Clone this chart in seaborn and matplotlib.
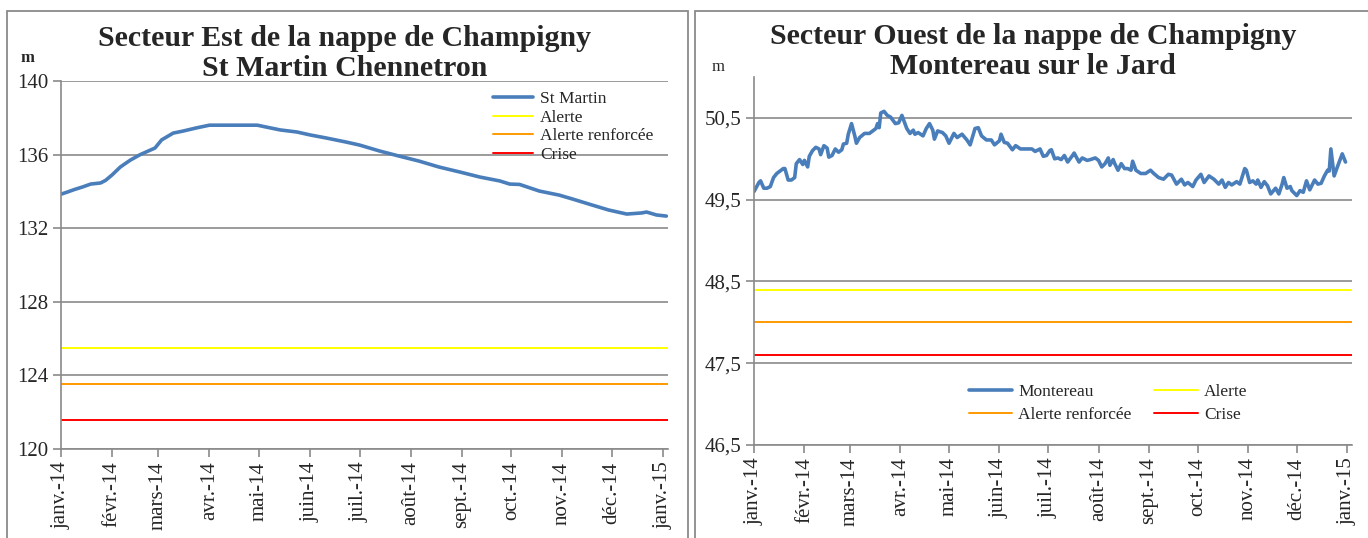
import pandas as pd
import matplotlib
matplotlib.use("Agg")
import matplotlib.pyplot as plt
import matplotlib.dates as mdates
from matplotlib.patches import Rectangle
import seaborn as sns

# Données (jours depuis le 1er janvier 2014, niveau en m)
est_jours = [0, 4, 8, 13, 18, 24, 27, 31, 36, 42, 48, 57, 61, 68, 74, 82, 90, 119,
             127, 133, 143, 151, 161, 173, 181, 193, 205, 217, 229, 242, 254, 266,
             272, 278, 290, 302, 310, 322, 332, 343, 352, 355, 361, 367]
est_niveau = [133.85, 133.97, 134.1, 134.24, 134.4, 134.46, 134.6, 134.9, 135.33,
              135.7, 136.0, 136.36, 136.8, 137.17, 137.28, 137.45, 137.6, 137.6,
              137.45, 137.34, 137.23, 137.07, 136.9, 136.68, 136.52, 136.2, 135.92,
              135.65, 135.33, 135.05, 134.78, 134.57, 134.4, 134.38, 134.02, 133.8,
              133.59, 133.26, 132.99, 132.77, 132.83, 132.88, 132.72, 132.66]

ouest_jours = [0, 3, 4, 6, 8, 10, 12, 14, 16, 18, 19, 21, 23, 25, 26, 28, 30, 31, 33, 34,
               36, 38, 40, 41, 43, 45, 46, 48, 50, 52, 54, 55, 57, 58, 60, 62, 63, 65, 68, 71,
               73, 75, 76, 77, 78, 80, 82, 84, 87, 89, 91, 94, 96, 98, 99, 101, 104, 106, 108, 110,
               111, 113, 116, 118, 120, 123, 125, 128, 131, 133, 136, 138, 140, 143, 146, 148, 151, 152, 154, 156,
               159, 161, 164, 168, 171, 173, 176, 178, 180, 182,
               183, 185, 187, 189, 191, 193, 196, 197, 200, 202, 205, 207, 210, 212, 214, 216, 218, 219, 221, 222,
               224, 226, 228, 230, 232, 233, 235, 238, 241, 244, 246, 249, 252, 255, 257, 260, 263, 265, 267, 270,
               272, 275, 277, 280, 283, 286, 288, 290, 292, 294, 297, 299, 302, 303, 305, 307, 309, 310, 312, 314,
               316, 318, 321, 323, 325, 326, 328, 330, 331, 334, 336, 338, 340, 342, 345, 347, 349, 351, 353, 354,
               355, 357, 359, 362, 364]
ouest_niveau = [49.6, 49.71, 49.73, 49.64, 49.64, 49.66, 49.77, 49.82, 49.85, 49.88, 49.88, 49.74, 49.74, 49.77, 49.94, 49.99, 49.93, 49.98, 49.90, 50.03,
                50.10, 50.14, 50.12, 50.05, 50.16, 50.13, 50.02, 50.04, 50.12, 50.08, 50.11, 50.18, 50.19, 50.30, 50.43, 50.28, 50.19, 50.26, 50.31, 50.31,
                50.34, 50.37, 50.43, 50.38, 50.56, 50.58, 50.53, 50.51, 50.43, 50.44, 50.53, 50.37, 50.31, 50.35, 50.30, 50.32, 50.28, 50.37, 50.43, 50.35,
                50.24, 50.34, 50.32, 50.28, 50.19, 50.31, 50.26, 50.30, 50.23, 50.17, 50.37, 50.38, 50.28, 50.23, 50.23, 50.17, 50.22, 50.30, 50.20, 50.19,
                50.11, 50.16, 50.12, 50.12, 50.12, 50.09, 50.12, 50.03, 50.04, 50.10,
                50.11, 50.00, 50.01, 49.99, 50.04, 49.96, 50.04, 50.07, 49.96, 50.01, 49.98, 49.99, 50.01, 49.98, 49.90, 49.94, 50.01, 49.92, 49.99, 49.94,
                49.86, 49.94, 49.88, 49.88, 49.86, 49.97, 49.86, 49.82, 49.82, 49.86, 49.82, 49.77, 49.75, 49.81, 49.80, 49.69, 49.75, 49.68, 49.71, 49.66,
                49.74, 49.81, 49.71, 49.79, 49.75, 49.69, 49.74, 49.65, 49.71, 49.68, 49.72, 49.69, 49.88, 49.86, 49.71, 49.73, 49.69, 49.74, 49.65, 49.72,
                49.67, 49.57, 49.64, 49.57, 49.69, 49.77, 49.64, 49.66, 49.61, 49.55, 49.61, 49.59, 49.73, 49.62, 49.74, 49.69, 49.70, 49.79, 49.86, 49.85,
                50.12, 49.79, 49.90, 50.06, 49.96]

# Seuils
est_seuils = {"Alerte": 125.5, "Alerte renforcée": 123.55, "Crise": 121.6}
ouest_seuils = {"Alerte": 48.4, "Alerte renforcée": 48.0, "Crise": 47.6}

mois = ["janv.-14", "févr.-14", "mars-14", "avr.-14", "mai-14", "juin-14", "juil.-14",
        "août-14", "sept.-14", "oct.-14", "nov.-14", "déc.-14", "janv.-15"]
est_yticks = [120, 124, 128, 132, 136, 140]
ouest_yticks = [46.5, 47.5, 48.5, 49.5, 50.5]
ouest_ylabels = ["46,5", "47,5", "48,5", "49,5", "50,5"]

couleurs_seuils = {"Alerte": "#FFFF00", "Alerte renforcée": "#FF9900", "Crise": "#FF0000"}
bleu = "#4A7EBB"
gris = "#8A8A8A"

debut = pd.Timestamp("2014-01-01")
est = pd.DataFrame({"date": debut + pd.to_timedelta(est_jours, unit="D"), "niveau": est_niveau})
ouest = pd.DataFrame({"date": debut + pd.to_timedelta(ouest_jours, unit="D"), "niveau": ouest_niveau})

sns.set_style("white")
plt.rcParams["font.family"] = ["Liberation Serif", "DejaVu Serif"]

fig = plt.figure(figsize=(13.68, 5.38), dpi=100)
ax1 = fig.add_axes([0.0446, 0.1654, 0.4437, 0.684])
ax2 = fig.add_axes([0.5512, 0.1729, 0.4371, 0.684])

# cadres des deux graphiques
fig.add_artist(Rectangle((7 / 1368, -0.05), 681 / 1368, 1.05 - 11 / 538, fill=False,
                         edgecolor=gris, lw=1.3, transform=fig.transFigure))
fig.add_artist(Rectangle((695 / 1368, -0.05), 700 / 1368, 1.05 - 11 / 538, fill=False,
                         edgecolor=gris, lw=1.3, transform=fig.transFigure))

ticks_mois = mdates.date2num(pd.date_range("2014-01-01", "2015-01-01", freq="MS"))

def habiller(ax, yticks, ylabels, ylim):
    ax.set_ylim(*ylim)
    ax.set_xlim(mdates.date2num(debut), mdates.date2num(pd.Timestamp("2015-01-04")))
    ax.set_yticks(yticks)
    ax.set_yticklabels(ylabels, fontsize=15)
    ax.set_xticks(ticks_mois)
    ax.set_xticklabels(mois, rotation=90, fontsize=15)
    ax.grid(axis="y", color=gris, lw=1.2)
    ax.grid(axis="x", visible=False)
    ax.set_axisbelow(True)
    for s in ["top", "right"]:
        ax.spines[s].set_visible(False)
    for s in ["left", "bottom"]:
        ax.spines[s].set_color(gris)
        ax.spines[s].set_linewidth(1.2)
    ax.tick_params(axis="both", direction="out", length=6, width=1.2, color=gris,
                   left=True, bottom=True, pad=3)
    ax.set_xlabel("")
    ax.set_ylabel("")

# Secteur Est
sns.lineplot(data=est, x="date", y="niveau", ax=ax1, color=bleu, linewidth=2.6, label="St Martin")
for nom, val in est_seuils.items():
    ax1.axhline(val, color=couleurs_seuils[nom], lw=1.4, label=nom)
habiller(ax1, est_yticks, [str(v) for v in est_yticks], (120, 140))
ax1.legend(loc="upper left", bbox_to_anchor=(0.712, 0.973), frameon=False, fontsize=12.5,
           handlelength=2.3, handletextpad=0.4, labelspacing=0.14, borderpad=0, borderaxespad=0)

# Secteur Ouest
sns.lineplot(data=ouest, x="date", y="niveau", ax=ax2, color=bleu, linewidth=2.6, label="Montereau")
for nom, val in ouest_seuils.items():
    ax2.axhline(val, color=couleurs_seuils[nom], lw=1.4, label=nom)
habiller(ax2, ouest_yticks, ouest_ylabels, (46.5, 51))
h, l = ax2.get_legend_handles_labels()
ordre = [0, 2, 1, 3]
ax2.legend([h[i] for i in ordre], [l[i] for i in ordre], ncol=2, loc="upper left",
           bbox_to_anchor=(0.3595, 0.167), frameon=False, fontsize=12.5, handlelength=2.5,
           handletextpad=0.35, labelspacing=0.4, columnspacing=1.3, borderpad=0, borderaxespad=0)

# Titres
fig.text(345 / 1368, 1 - 25 / 538, "Secteur Est de la nappe de Champigny\nSt Martin Chennetron",
         ha="center", va="top", fontsize=21.5, fontweight="bold", linespacing=1.12)
fig.text(1033 / 1368, 1 - 23 / 538, "Secteur Ouest de la nappe de Champigny\nMontereau sur le Jard",
         ha="center", va="top", fontsize=21.5, fontweight="bold", linespacing=1.12)
fig.text(27 / 1368, 1 - 58 / 538, "m", ha="center", va="center", fontsize=12, fontweight="bold")
fig.text(718 / 1368, 1 - 67 / 538, "m", ha="center", va="center", fontsize=12)

fig.savefig("out.png", dpi=100)
